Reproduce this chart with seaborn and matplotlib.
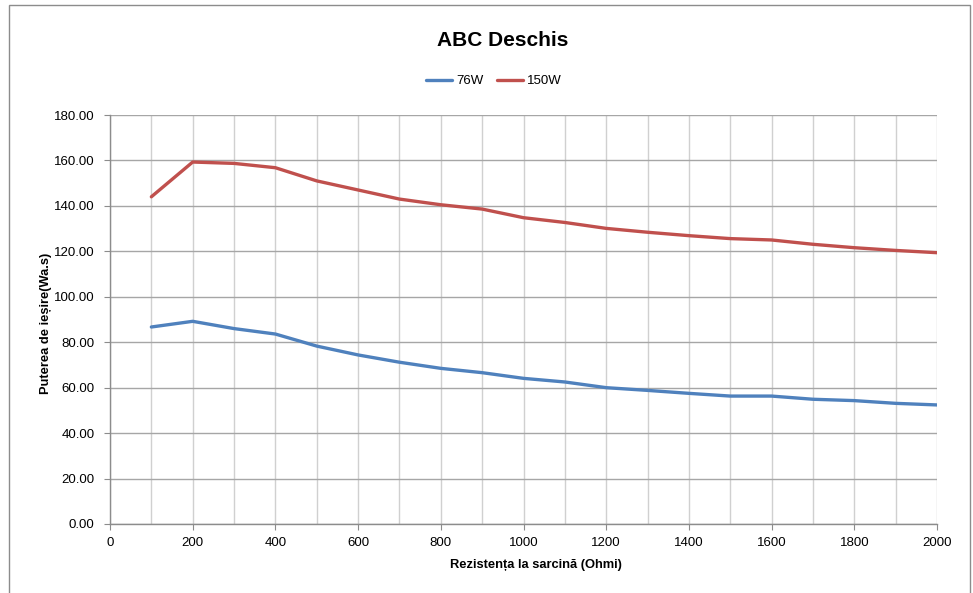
import pandas as pd
import matplotlib.pyplot as plt
import seaborn as sns
from matplotlib.ticker import MultipleLocator, FormatStrFormatter
from matplotlib.patches import Rectangle

# load resistance (Ohmi)
rezistenta = [100, 200, 300, 400, 500, 600, 700, 800, 900, 1000,
              1100, 1200, 1300, 1400, 1500, 1600, 1700, 1800, 1900, 2000]

putere_76w = [86.7, 89.2, 86.0, 83.6, 78.3, 74.4, 71.2, 68.5, 66.6, 64.1,
              62.5, 60.0, 58.8, 57.5, 56.3, 56.3, 54.9, 54.3, 53.1, 52.4]
putere_150w = [144.0, 159.3, 158.7, 156.8, 151.0, 147.0, 143.0, 140.5, 138.6, 134.8,
               132.7, 130.1, 128.4, 126.9, 125.6, 125.0, 123.1, 121.6, 120.4, 119.4]

serii = ["76W", "150W"]
culori = {"76W": "#4F81BD", "150W": "#C0504D"}

df = pd.DataFrame({
    "x": rezistenta * 2,
    "y": putere_76w + putere_150w,
    "serie": ["76W"] * len(rezistenta) + ["150W"] * len(rezistenta),
})

sns.set_style("white")
plt.rcParams["font.family"] = ["Liberation Sans", "DejaVu Sans"]
plt.rcParams["text.color"] = "black"
plt.rcParams["axes.labelcolor"] = "black"

fig = plt.figure(figsize=(9.73, 5.93), dpi=100)
ax = fig.add_axes([110 / 973, 1 - 524 / 593, (937 - 110) / 973, (524 - 115) / 593])

# outer chart border like Excel
fig.patches.append(Rectangle((9 / 973, -0.02), 961 / 973, 1 - 5 / 593 + 0.02, transform=fig.transFigure,
                             fill=False, edgecolor="#8C8C8C", linewidth=1.0))

sns.lineplot(ax=ax, data=df, x="x", y="y", hue="serie", hue_order=serii,
             palette=culori, linewidth=2.4, legend=False)

ax.set_xlim(0, 2000)
ax.set_ylim(0, 180)
ax.xaxis.set_major_locator(MultipleLocator(200))
ax.xaxis.set_minor_locator(MultipleLocator(100))
ax.yaxis.set_major_locator(MultipleLocator(20))
ax.yaxis.set_major_formatter(FormatStrFormatter("%.2f"))

ax.grid(True, axis="y", which="major", color="#A6A6A6", linewidth=1.0)
ax.grid(True, axis="x", which="both", color="#D0D0D0", linewidth=1.0)
ax.set_axisbelow(True)

for s in ["top", "right"]:
    ax.spines[s].set_visible(False)
for s in ["left", "bottom"]:
    ax.spines[s].set_color("#8C8C8C")
    ax.spines[s].set_linewidth(1.0)

ax.tick_params(axis="both", which="major", direction="out", length=4, color="#8C8C8C",
               labelsize=9.5, labelcolor="black", left=True, bottom=True)
ax.tick_params(axis="y", which="major", pad=7)
ax.tick_params(axis="x", which="major", pad=5)
ax.tick_params(axis="x", which="minor", length=0)

ax.set_xlabel("Rezistența la sarcină (Ohmi)", fontsize=9.3, fontweight="bold")
ax.xaxis.set_label_coords((536 - 110) / 827, -35 / 409)
ax.set_ylabel("Puterea de ieșire(Wa.s)", fontsize=9.3, fontweight="bold")
ax.yaxis.set_label_coords(-58 / 827, 0.49)

fig.text(503 / 973, 1 - 40 / 593, "ABC Deschis", ha="center", va="center",
         fontsize=15, fontweight="bold")

handles = [plt.Line2D([], [], color=culori[s], linewidth=2.4) for s in serii]
fig.legend(handles, serii, loc="center", bbox_to_anchor=(494 / 973, 1 - 81 / 593),
           ncol=2, frameon=False, fontsize=9.5, handlelength=2.0, handletextpad=0.3,
           columnspacing=1.0)

fig.savefig("out.png", dpi=100)
